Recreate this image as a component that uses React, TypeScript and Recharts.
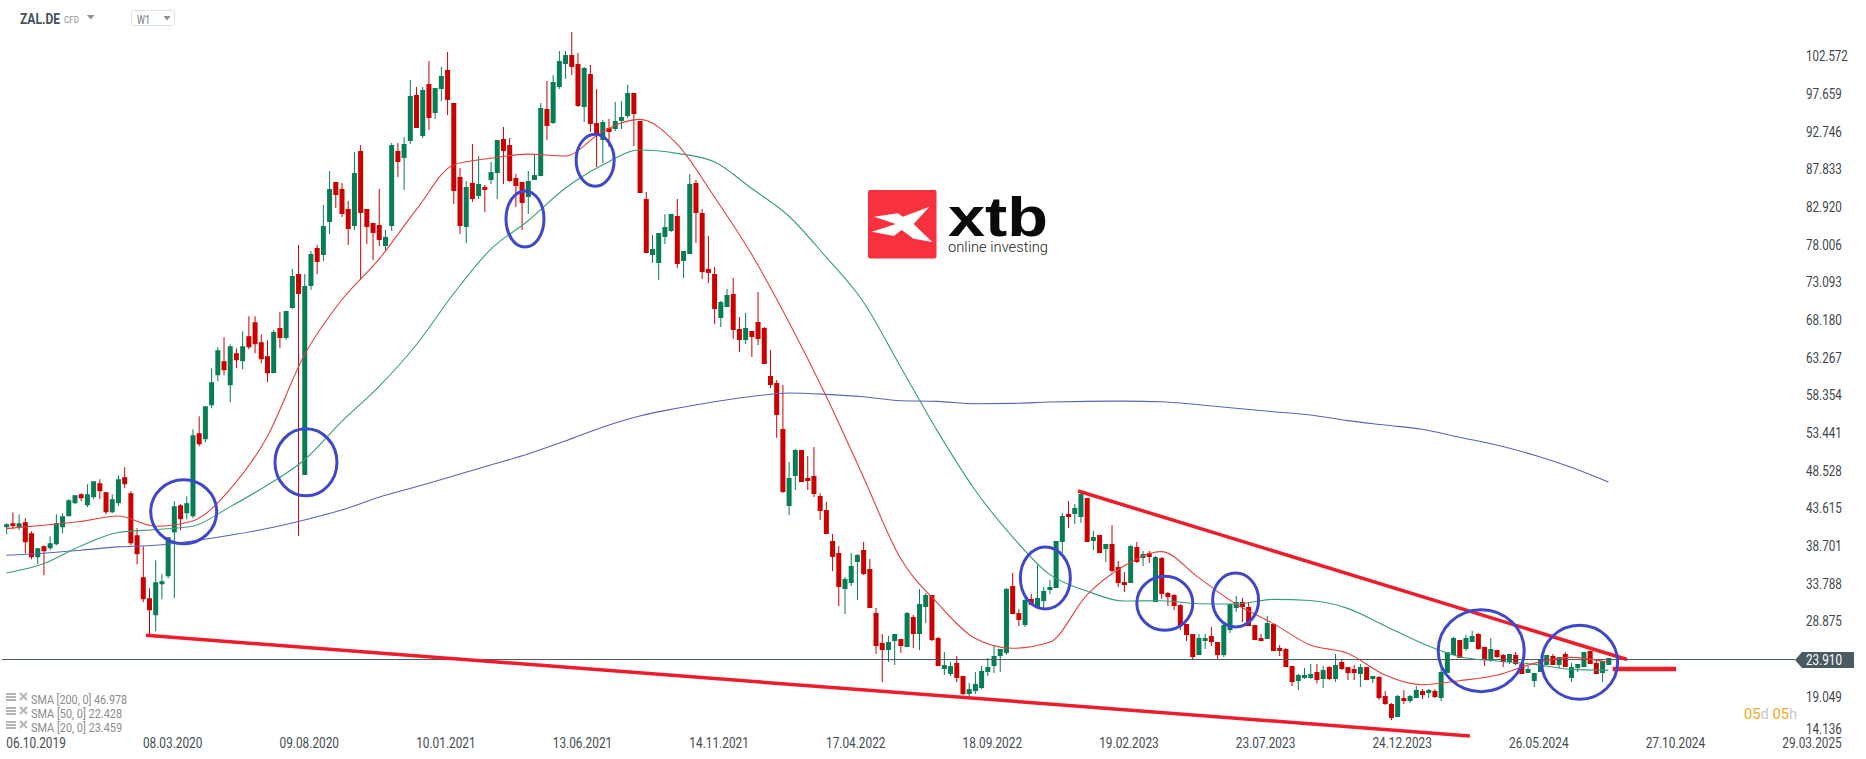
import { Bar, Cell, ComposedChart, Line, ReferenceDot, ReferenceLine, XAxis, YAxis } from "recharts"

// weekly candles (week 0 = 06.10.2019)
const opens = [
  41.16, 41.68, 41.16, 41.81, 40.37, 37.24, 38.68, 38.42, 38.94, 41.16,
  42.59, 44.29, 45.46, 44.02, 45.07, 46.89, 45.72, 43.11, 44.29, 47.68,
  45.59, 40.11, 34.64, 31.9, 29.68, 33.72, 34.77, 40.5, 44.02, 42.98,
  42.59, 53.41, 52.63, 57.06, 60.97, 62.8, 59.67, 63.84, 62.8, 66.06,
  67.88, 65.28, 63.45, 61.26, 67.13, 65.83, 69.74, 74.17, 47.96, 72.61,
  77.56, 76.65, 80.95, 86.17, 85.25, 82.65, 80.43, 90.21, 82.65, 80.82,
  80.56, 77.82, 80.43, 90.21, 89.3, 91.51, 97.51, 92.16, 98.94, 95.16,
  98.29, 100.77, 96.47, 86.82, 80.3, 86.04, 84.34, 85.51, 86.43, 87.34,
  91.77, 90.99, 86.69, 86.17, 84.21, 86.42, 86.94, 95.68, 93.85, 98.55,
  101.55, 102.72, 101.55, 95.94, 100.24, 93.85, 91.64, 93.2, 93.07, 94.12,
  94.77, 97.77, 94.12, 83.95, 76.64, 75.6, 78.99, 79.77, 81.73, 75.86,
  76.77, 86.03, 82.12, 74.82, 74.17, 68.43, 69.86, 71.56, 67.0, 65.56,
  66.74, 67.91, 67.13, 60.87, 59.96, 53.96, 43.92, 47.84, 51.23, 47.58,
  47.84, 45.23, 43.4, 39.36, 37.8, 33.1, 33.89, 36.62, 38.19, 35.71,
  29.97, 26.06, 25.15, 26.32, 26.58, 25.54, 29.45, 27.24, 30.76, 32.32,
  26.71, 22.67, 22.02, 23.45, 21.76, 19.41, 19.8, 20.2, 22.28, 23.06,
  24.37, 24.76, 33.49, 29.97, 28.41, 31.8, 30.63, 31.54, 32.97, 33.23,
  39.23, 42.88, 42.88, 42.49, 44.96, 39.36, 40.14, 38.31, 38.97, 35.97,
  34.01, 33.88, 38.57, 37.14, 37.79, 31.4, 37.14, 32.58, 32.32, 31.01,
  28.54, 27.23, 24.49, 26.32, 26.97, 26.19, 24.49, 27.75, 30.62, 31.4,
  30.75, 28.4, 26.71, 26.58, 28.54, 25.41, 25.28, 23.06, 21.1, 21.5,
  21.5, 22.28, 21.37, 22.93, 21.37, 23.59, 22.93, 22.67, 22.02, 22.93,
  21.37, 21.63, 19.15, 18.11, 16.42, 18.89, 18.5, 18.89, 19.81, 19.54,
  19.81, 18.89, 22.15, 24.5, 26.45, 25.28, 26.19, 27.24, 25.54, 23.85,
  25.15, 24.5, 23.59, 24.5, 23.33, 22.15, 21.11, 22.28, 23.2, 24.37,
  23.2, 24.63, 21.5, 22.8, 22.93, 25.02, 23.46, 22.15, 23.2,
]
const closes = [
  41.55, 41.29, 41.68, 39.2, 37.24, 38.42, 38.03, 39.07, 41.68, 42.59,
  44.68, 45.33, 44.94, 45.46, 47.15, 45.85, 43.11, 44.81, 47.41, 46.76,
  39.07, 37.64, 31.77, 30.33, 33.99, 34.12, 39.85, 43.89, 42.2, 44.29,
  53.15, 51.98, 56.93, 60.06, 64.23, 61.63, 64.75, 62.93, 64.75, 64.62,
  65.02, 63.06, 61.23, 66.61, 65.83, 69.35, 73.91, 71.56, 72.61, 76.78,
  75.74, 80.43, 85.25, 84.47, 81.99, 80.04, 87.34, 82.12, 80.3, 79.52,
  78.6, 79.0, 90.99, 88.77, 91.12, 97.38, 93.21, 98.16, 94.51, 98.42,
  99.99, 96.86, 84.99, 80.43, 85.51, 83.95, 85.91, 85.12, 87.47, 91.64,
  90.21, 86.3, 85.64, 83.43, 86.3, 87.07, 95.81, 93.46, 99.2, 101.94,
  102.72, 101.16, 96.07, 101.03, 93.72, 92.42, 93.98, 92.68, 94.12, 94.64,
  97.77, 95.03, 84.73, 76.91, 77.43, 79.51, 80.3, 81.99, 75.47, 77.17,
  85.9, 82.12, 74.43, 74.3, 69.6, 70.52, 71.43, 66.87, 65.56, 67.13,
  65.95, 65.69, 62.43, 59.7, 55.79, 45.75, 47.58, 51.23, 47.05, 47.18,
  45.49, 43.27, 40.27, 37.28, 33.36, 34.41, 36.1, 37.54, 35.06, 30.63,
  25.67, 25.15, 26.19, 27.24, 25.67, 29.97, 27.24, 31.15, 32.32, 26.45,
  23.06, 23.19, 23.06, 21.5, 19.41, 20.06, 20.72, 22.41, 22.93, 24.37,
  25.28, 33.1, 29.84, 29.06, 31.67, 31.02, 31.93, 32.84, 33.36, 39.36,
  42.62, 42.49, 43.66, 45.48, 39.23, 39.88, 37.79, 38.97, 35.45, 33.88,
  33.62, 38.7, 36.62, 37.66, 37.27, 37.27, 32.45, 32.06, 30.88, 28.27,
  27.1, 24.23, 26.71, 26.71, 26.19, 24.49, 28.4, 31.14, 31.4, 30.75,
  28.27, 26.45, 26.32, 28.67, 25.02, 25.02, 22.93, 20.97, 21.89, 21.89,
  22.02, 21.24, 22.54, 21.37, 23.2, 22.67, 22.15, 22.15, 22.93, 21.24,
  21.76, 18.89, 18.11, 16.29, 19.15, 18.5, 19.15, 19.94, 19.28, 19.94,
  19.02, 22.28, 24.89, 26.72, 24.11, 26.72, 26.98, 25.28, 23.85, 25.28,
  24.24, 23.59, 24.63, 23.33, 22.02, 22.67, 22.15, 23.85, 24.5, 23.2,
  24.24, 22.93, 22.93, 23.33, 24.89, 23.33, 22.02, 23.72, 24.11,
]
const highs = [
  41.68, 43.07, 42.85, 42.33, 40.63, 38.42, 38.81, 39.98, 42.85, 42.98,
  44.81, 45.33, 45.59, 46.76, 47.15, 47.41, 45.72, 45.46, 47.94, 48.98,
  45.85, 41.03, 38.68, 33.2, 36.85, 35.03, 39.85, 44.55, 44.15, 45.2,
  53.93, 55.63, 56.93, 61.89, 64.62, 65.93, 65.02, 64.49, 66.71, 68.67,
  68.67, 66.32, 65.54, 66.87, 69.22, 69.35, 74.82, 77.95, 74.17, 77.17,
  77.95, 83.17, 87.6, 86.17, 86.04, 83.69, 90.08, 90.99, 82.65, 80.82,
  85.25, 79.91, 91.25, 91.25, 92.03, 99.46, 98.55, 98.55, 101.94, 98.42,
  101.16, 103.12, 96.47, 87.99, 86.3, 91.12, 89.56, 85.77, 88.77, 91.64,
  93.34, 91.9, 87.21, 86.17, 87.6, 89.68, 96.46, 99.33, 100.11, 103.24,
  103.24, 105.72, 102.98, 101.16, 101.42, 98.29, 94.25, 94.38, 96.59, 96.72,
  98.81, 97.77, 94.12, 84.86, 79.25, 79.51, 81.99, 81.99, 83.95, 77.17,
  87.21, 86.42, 82.64, 79.12, 75.08, 70.65, 72.21, 73.65, 68.56, 69.08,
  66.74, 71.82, 67.26, 64.26, 60.35, 59.7, 49.66, 51.36, 51.23, 50.44,
  51.62, 45.62, 44.45, 40.27, 38.71, 34.67, 37.8, 37.67, 39.23, 37.01,
  30.63, 27.24, 26.98, 27.24, 26.58, 30.1, 29.71, 33.1, 32.58, 32.32,
  26.84, 24.89, 23.59, 24.37, 21.76, 20.85, 22.28, 23.06, 24.11, 25.8,
  25.28, 33.23, 35.19, 30.5, 32.45, 32.45, 36.23, 33.36, 34.28, 39.36,
  43.01, 44.57, 44.18, 45.88, 44.96, 40.66, 40.14, 38.97, 41.44, 36.75,
  35.31, 38.84, 39.23, 38.05, 38.05, 37.4, 37.27, 32.71, 32.45, 31.14,
  28.54, 27.23, 27.23, 27.23, 28.14, 26.19, 28.54, 31.14, 32.19, 31.93,
  31.4, 28.4, 27.23, 29.58, 28.67, 25.8, 25.41, 23.06, 22.02, 22.8,
  23.33, 23.33, 23.06, 23.06, 24.63, 23.85, 22.93, 23.2, 23.33, 22.93,
  21.76, 21.76, 19.81, 18.24, 19.28, 19.94, 19.28, 20.46, 20.07, 20.07,
  20.07, 22.8, 24.89, 26.85, 26.45, 27.11, 27.63, 27.37, 25.54, 26.72,
  25.15, 24.63, 24.63, 24.89, 23.59, 23.06, 22.15, 23.98, 24.5, 24.63,
  24.24, 24.89, 23.46, 23.33, 24.89, 25.02, 23.85, 23.72, 24.11,
]
const lows = [
  40.24, 40.9, 40.76, 37.72, 36.98, 36.33, 34.9, 38.16, 38.81, 40.37,
  42.59, 44.15, 44.55, 43.76, 44.81, 44.81, 42.85, 42.98, 43.89, 46.24,
  38.81, 36.33, 31.38, 27.08, 27.6, 31.77, 34.51, 31.9, 40.76, 42.2,
  42.33, 51.72, 52.24, 56.67, 60.19, 60.97, 57.45, 61.89, 61.76, 64.36,
  63.84, 62.54, 60.06, 61.26, 64.52, 65.57, 69.61, 40.01, 47.96, 72.08,
  74.17, 75.87, 79.39, 82.78, 81.6, 77.95, 79.91, 73.39, 78.08, 76.0,
  77.82, 77.3, 79.78, 86.82, 85.12, 91.12, 93.21, 91.9, 92.95, 94.38,
  96.73, 94.9, 83.3, 79.39, 78.21, 83.56, 83.95, 82.25, 85.91, 83.95,
  85.91, 86.17, 82.91, 79.91, 81.99, 86.42, 86.94, 91.64, 93.72, 98.29,
  99.59, 100.11, 95.94, 93.98, 92.68, 88.12, 88.64, 90.73, 92.81, 93.07,
  94.51, 90.86, 84.73, 76.91, 75.6, 73.38, 78.08, 79.64, 74.95, 73.65,
  76.77, 78.21, 73.52, 72.99, 67.65, 67.26, 69.86, 65.69, 64.0, 65.04,
  63.35, 64.91, 62.43, 59.3, 52.83, 45.62, 42.75, 46.01, 47.05, 46.01,
  45.1, 42.1, 40.27, 35.45, 30.89, 29.84, 33.49, 31.67, 34.93, 30.63,
  24.63, 20.98, 23.59, 23.19, 24.76, 25.54, 25.41, 25.15, 28.67, 26.32,
  23.06, 21.89, 21.76, 20.98, 19.28, 19.15, 19.41, 20.06, 21.76, 22.15,
  22.28, 24.5, 29.84, 28.28, 28.15, 31.02, 30.5, 30.63, 32.45, 33.23,
  37.79, 41.05, 41.57, 41.7, 39.23, 38.18, 37.79, 36.62, 35.31, 33.36,
  32.71, 33.88, 36.49, 36.1, 36.49, 31.4, 31.79, 30.88, 30.36, 27.75,
  26.32, 23.97, 24.49, 25.28, 25.67, 23.97, 24.23, 27.36, 30.1, 28.8,
  28.27, 26.45, 26.32, 26.58, 25.02, 24.36, 22.93, 20.45, 19.93, 21.37,
  21.37, 20.8, 20.2, 21.24, 20.98, 22.54, 21.24, 21.24, 20.33, 21.24,
  20.85, 18.63, 17.98, 16.02, 16.42, 18.11, 18.24, 18.89, 18.76, 18.89,
  18.89, 18.5, 22.15, 24.5, 24.11, 25.02, 26.19, 25.15, 23.06, 23.59,
  24.11, 22.93, 23.33, 23.2, 22.02, 22.15, 20.33, 22.28, 23.2, 23.2,
  22.8, 22.93, 20.98, 22.28, 22.93, 23.33, 22.02, 20.98, 23.2,
]

// moving averages, one reading every 6 weeks
const SMA_STEP = 6
const sma20 = [
  40.98, 41.42, 41.9, 42.63, 41.29, 41.98, 46.07, 52.93, 63.61, 70.78, 76.08,
  82.52, 88.38, 89.25, 89.8, 89.55, 92.72, 94.33, 91.12, 84.25, 76.77, 67.95,
  58.31, 47.75, 37.1, 31.23, 26.67, 25.37, 26.15, 32.32, 36.1, 37.97, 34.58,
  31.14, 28.62, 25.8, 24.72, 21.9, 20.63, 21.15, 21.85, 23.41, 24.19, 23.54,
]
const sma50 = [
  35.2, 36.4, 38.72, 40.46, 40.86, 41.29, 43.81, 46.63, 49.92, 54.92, 59.48,
  64.91, 71.56, 77.39, 81.08, 85.34, 88.38, 90.33, 89.9, 88.81, 85.34, 81.73,
  76.39, 70.56, 62.09, 53.62, 46.01, 39.93, 35.01, 32.84, 31.53, 31.58, 31.19,
  31.14, 31.75, 31.6, 30.58, 28.32, 26.02, 24.28, 23.72, 23.28, 22.63, 22.5,
]
const sma200 = [
  37.51, 37.77, 38.16, 38.59, 38.81, 39.37, 40.11, 40.98, 42.1, 43.4, 45.06,
  46.44, 47.83, 49.27, 50.7, 52.4, 54.2, 55.66, 56.66, 57.52, 58.2, 58.65,
  58.48, 58.17, 57.65, 57.56, 57.26, 57.3, 57.48, 57.57, 57.6, 57.52, 57.13,
  56.66, 56.22, 55.79, 55.05, 54.48, 53.92, 52.88, 51.88, 50.57, 48.97, 47.05,
]

const priceTicks = [
  102.572, 97.659, 92.746, 87.833, 82.92, 78.006, 73.093, 68.18, 63.267, 58.354,
  53.441, 48.528, 43.615, 38.701, 33.788, 28.875, 23.91, 19.049, 14.136,
]
const currentPrice = 23.91
const dateWeeks = [0, 22, 44, 66, 88, 110, 132, 154, 176, 198, 220, 242, 264, 286]
const dateLabels = [
  "06.10.2019", "08.03.2020", "09.08.2020", "10.01.2021", "13.06.2021", "14.11.2021", "17.04.2022",
  "18.09.2022", "19.02.2023", "23.07.2023", "24.12.2023", "26.05.2024", "27.10.2024", "29.03.2025",
]
const legendRows = ["SMA [200, 0] 46.978", "SMA [50, 0] 22.428", "SMA [20, 0] 23.459"]

// hand drawn annotations, in chart units (week, price)
const circleWeeks = [28.57, 48.26, 83.53, 94.83, 167.33, 186.57, 197.97, 237.52, 253.37]
const circlePrices = [43.18, 49.62, 81.34, 88.99, 34.54, 31.24, 31.67, 25.06, 23.54]
const supportLine = [{ x: 22.5, y: 27.07 }, { x: 235.7, y: 13.94 }]
const resistanceLine = [{ x: 172.6, y: 45.88 }, { x: 261, y: 23.91 }]
const stubLine = [{ x: 258.7, y: 22.67 }, { x: 268.9, y: 22.67 }]

const circleRadii = [[33, 32], [31, 33.5], [19, 28], [19, 26], [25, 31], [28, 27], [23, 27], [43, 41], [38, 37]]

const GREEN = "#077d55"
const RED = "#cc0000"
const FONT = "Roboto, sans-serif"

const rows = opens.map((open, i) => ({
  week: i,
  wick: [lows[i], highs[i]],
  body: [Math.min(open, closes[i]), Math.max(open, closes[i])],
  up: closes[i] >= open,
  sma20: i % SMA_STEP === 0 ? sma20[i / SMA_STEP] : null,
  sma50: i % SMA_STEP === 0 ? sma50[i / SMA_STEP] : null,
  sma200: i % SMA_STEP === 0 ? sma200[i / SMA_STEP] : null,
}))

function PriceTick({ x, y, payload }: any) {
  const label = payload.value.toFixed(3)
  const left = x - 8 // recharts adds its tick margin, the badge starts right at the plot edge
  const textX = left + 11
  if (payload.value === currentPrice) {
    const cy = y + 0.5
    return (
      <g>
        <path
          d={`M${left} ${cy} L${left + 7} ${cy - 8} H${left + 59} V${cy + 8} H${left + 7} Z`}
          fill="#4a5a62"
        />
        <text x={textX} y={cy + 5} fontFamily={FONT} fontSize={14} fill="#fff" textLength={36} lengthAdjust="spacingAndGlyphs">
          {label}
        </text>
      </g>
    )
  }
  const shift = payload.value < 15 ? -5 : 0
  return (
    <text
      x={textX}
      y={y + 5 + shift}
      fontFamily={FONT}
      fontSize={14}
      fill="#3f464c"
      textLength={label.length * 5.97}
      lengthAdjust="spacingAndGlyphs"
    >
      {label}
    </text>
  )
}

function DateTick({ x, payload }: any) {
  return (
    <text x={x} y={748} fontFamily={FONT} fontSize={14} fill="#444c52" textLength={59.5} lengthAdjust="spacingAndGlyphs">
      {dateLabels[dateWeeks.indexOf(payload.value)]}
    </text>
  )
}

function Overlay() {
  return (
    <svg width={1866} height={759} style={{ position: "absolute", left: 0, top: 0, pointerEvents: "none" }}>
      {/* header */}
      <text x={20} y={24} fontFamily={FONT} fontSize={14} fontWeight={700} fill="#45525a" textLength={40} lengthAdjust="spacingAndGlyphs">
        ZAL.DE
      </text>
      <text x={64} y={23} fontFamily={FONT} fontSize={9} fill="#8a9196" textLength={15} lengthAdjust="spacingAndGlyphs">
        CFD
      </text>
      <path d="M87 15 H94.5 L90.7 19.5 Z" fill="#8a9196" />
      <rect x={131.5} y={10.5} width={43} height={15} rx={2} fill="#fff" stroke="#dfe2e4" />
      <text x={137} y={24} fontFamily={FONT} fontSize={13} fill="#6e767b" textLength={13} lengthAdjust="spacingAndGlyphs">
        W1
      </text>
      <path d="M163.5 16 H170.6 L167 20.5 Z" fill="#8a9196" />

      {/* logo */}
      <rect x={868} y={190} width={68.5} height={68.5} rx={2} fill="#f9313f" />
      <path
        d="M874 216.7 L897.8 213.3 L902.9 216.7 L929.5 206.7 L913.6 224 L932.3 242 L913.6 238.7 L901.7 230 L893.8 236 L872 231.7 L895.8 224 Z"
        fill="#fff"
      />
      <text x={948} y={236} fontFamily="'Liberation Sans', sans-serif" fontSize={56} fontWeight={700} fill="#0a0a0a" textLength={100} lengthAdjust="spacingAndGlyphs">
        xtb
      </text>
      <text x={948} y={252} fontFamily={FONT} fontSize={14} fontWeight={300} fill="#222" textLength={100} lengthAdjust="spacingAndGlyphs">
        online investing
      </text>

      {/* indicator legend */}
      {legendRows.map((label, i) => {
        const cy = 699 + i * 14
        return (
          <g key={label}>
            <rect x={6} y={cy - 6} width={10} height={2} fill="#b5b5b5" />
            <rect x={6} y={cy - 3} width={10} height={2} fill="#b5b5b5" />
            <rect x={6} y={cy} width={10} height={2} fill="#b5b5b5" />
            <path d={`M20 ${cy - 6} L27 ${cy + 1} M27 ${cy - 6} L20 ${cy + 1}`} stroke="#b5b5b5" strokeWidth={2} />
            <text x={31} y={cy + 5} fontFamily={FONT} fontSize={12} fill="#8c8c8c" textLength={label.length * 5.06} lengthAdjust="spacingAndGlyphs">
              {label}
            </text>
          </g>
        )
      })}

      {/* candle countdown */}
      <text x={1744} y={719} fontFamily={FONT} fontSize={14} textLength={53} lengthAdjust="spacingAndGlyphs">
        <tspan fill="#f5a623">05</tspan>
        <tspan fill="#c8c8c8">d </tspan>
        <tspan fill="#f5a623">05</tspan>
        <tspan fill="#c8c8c8">h</tspan>
      </text>
    </svg>
  )
}

export default function App() {
  return (
    <div style={{ position: "absolute", left: 0, top: 0, width: 1866, height: 759, background: "#fff" }}>
      <ComposedChart width={1866} height={759} data={rows} margin={{ top: 0, right: 0, bottom: 0, left: 2 }}>
        <XAxis
          dataKey="week"
          type="number"
          domain={[-0.69, 288.05]}
          ticks={dateWeeks}
          interval={0}
          height={24}
          axisLine={false}
          tickLine={false}
          tick={<DateTick />}
        />
        <XAxis xAxisId="wicks" dataKey="week" type="number" domain={[-0.69, 288.05]} hide />
        <YAxis
          orientation="right"
          width={71}
          domain={[14.07, 109.89]}
          ticks={priceTicks}
          interval={0}
          allowDataOverflow
          axisLine={false}
          tickLine={false}
          tick={<PriceTick />}
        />
        <ReferenceLine y={currentPrice} stroke="#4a5a62" strokeWidth={1} />
        <Bar xAxisId="wicks" dataKey="wick" barSize={1} isAnimationActive={false}>
          {rows.map((r) => (
            <Cell key={r.week} fill={r.up ? GREEN : RED} />
          ))}
        </Bar>
        <Bar dataKey="body" barSize={5} isAnimationActive={false}>
          {rows.map((r) => (
            <Cell key={r.week} fill={r.up ? GREEN : RED} />
          ))}
        </Bar>
        <Line dataKey="sma200" type="monotone" stroke="#5b63b8" strokeWidth={1.1} dot={false} connectNulls isAnimationActive={false} />
        <Line dataKey="sma50" type="monotone" stroke="#3a9c7b" strokeWidth={1.1} dot={false} connectNulls isAnimationActive={false} />
        <Line dataKey="sma20" type="monotone" stroke="#e2403f" strokeWidth={1.1} dot={false} connectNulls isAnimationActive={false} />
        <ReferenceLine segment={supportLine} stroke="#f01c2c" strokeWidth={3.5} ifOverflow="visible" />
        <ReferenceLine segment={resistanceLine} stroke="#f01c2c" strokeWidth={3.5} ifOverflow="visible" />
        <ReferenceLine segment={stubLine} stroke="#f01c2c" strokeWidth={4.5} ifOverflow="visible" />
        {circleWeeks.map((week, i) => (
          <ReferenceDot
            key={week}
            x={week}
            y={circlePrices[i]}
            ifOverflow="visible"
            shape={(p: any) => (
              <ellipse cx={p.cx} cy={p.cy} rx={circleRadii[i][0]} ry={circleRadii[i][1]} fill="none" stroke="#3f48cc" strokeWidth={3} />
            )}
          />
        ))}
      </ComposedChart>
      <Overlay />
    </div>
  )
}
